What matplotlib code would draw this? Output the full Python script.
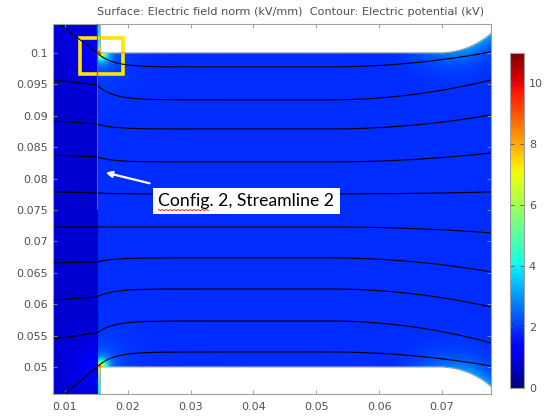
import numpy as np
import matplotlib
matplotlib.use("Agg")
import matplotlib.pyplot as plt
from matplotlib.patches import Rectangle
from matplotlib.lines import Line2D

# axis ranges and ticks
x_range = (0.0081, 0.0778)
y_range = (0.0457, 0.1046)
x_ticks = [0.01, 0.02, 0.03, 0.04, 0.05, 0.06, 0.07]
x_labels = ["0.01", "0.02", "0.03", "0.04", "0.05", "0.06", "0.07"]
y_ticks = [0.05, 0.055, 0.06, 0.065, 0.07, 0.075, 0.08, 0.085, 0.09, 0.095, 0.1]
y_labels = ["0.05", "0.055", "0.06", "0.065", "0.07", "0.075", "0.08", "0.085", "0.09", "0.095", "0.1"]
cbar_ticks = [0, 2, 4, 6, 8, 10]
field_max = 11.0

# geometry
x_domain_edge = 0.0151     # left dielectric / gap boundary
x_electrode = 0.0156       # electrode edge
y_top_electrode = 0.1
y_bot_electrode = 0.05
fillet_start = 0.0695
fillet_radius = 0.0125

# potential contour heights (top to bottom) at a few x stations
contour_levels = [0.95, 0.85, 0.75, 0.65, 0.55, 0.45, 0.35, 0.25, 0.15, 0.05]
contour_y_left = [0.10541, 0.09570, 0.08917, 0.08376, 0.07787, 0.07229, 0.06656, 0.06067, 0.05446, 0.04411]
contour_y_edge = [0.1000, 0.09490, 0.08869, 0.08344, 0.07771, 0.07229, 0.06672, 0.06115, 0.05541, 0.0500]
contour_y_main = [0.09777, 0.09252, 0.08790, 0.08264, 0.07755, 0.07229, 0.06736, 0.06242, 0.05732, 0.05239]
contour_y_right = [0.10016, 0.09570, 0.09013, 0.08408, 0.07787, 0.07134, 0.06513, 0.05955, 0.05382, 0.05016]

# field norm levels (kV/mm)
field_main = 1.85
field_left = 0.78
field_strip = 3.8
field_corner_peak = 8.0
field_fillet_glow = 1.3

# streamline and annotation
streamline_x = [0.0151, 0.0151]
streamline_y = [0.1046, 0.0752]
zoom_box = (0.01239, 0.09666, 0.00686, 0.00573)
label_text = "Config. 2, Streamline 2"
label_pos = (0.03887, 0.07643)
arrow_head = (0.01606, 0.08105)
arrow_tail = (0.02388, 0.07914)


def fillet(x):
    dx = np.clip(x - fillet_start, 0, fillet_radius)
    return fillet_radius - np.sqrt(fillet_radius ** 2 - dx ** 2)


xs = np.linspace(x_range[0], x_range[1], 900)
ys = np.linspace(y_range[0], y_range[1], 800)
X, Y = np.meshgrid(xs, ys)
top_b = y_top_electrode + fillet(X)
bot_b = y_bot_electrode - fillet(X)
outside = (X >= x_electrode) & ((Y > top_b) | (Y < bot_b))

# ---- field norm surface ----
r_top = np.hypot(X - x_electrode, Y - y_top_electrode)
r_bot = np.hypot(X - x_electrode, Y - y_bot_electrode)
E = np.full(X.shape, field_main)
E += field_corner_peak * (np.exp(-r_top / 0.0007) + np.exp(-r_bot / 0.0007))
E += 0.7 * (np.exp(-r_top / 0.003) + np.exp(-r_bot / 0.003))
ramp = np.clip((X - 0.062) / 0.012, 0, 1)
E += field_fillet_glow * ramp * (np.exp(-np.abs(top_b - Y) / 0.002) + np.exp(-np.abs(Y - bot_b) / 0.002))

left = X < x_domain_edge
E_left = field_left + 1.0 * (np.exp(-r_top / 0.0025) + np.exp(-r_bot / 0.0025))
E = np.where(left, E_left, E)

strip = (X >= x_domain_edge) & (X < x_electrode)
E_up = field_strip + 6.5 * np.exp(-np.abs(Y - y_top_electrode) / 0.0008)
E_dn = field_strip + 4.5 * np.exp(-np.abs(y_bot_electrode - Y) / 0.0014)
E = np.where(strip & (Y > y_top_electrode), E_up, E)
E = np.where(strip & (Y < y_bot_electrode), E_dn, E)
E = np.ma.masked_where(outside, E)

# ---- potential for contours ----
pad = 0.006
cl = np.r_[contour_y_left[0] + pad, contour_y_left, contour_y_left[-1] - pad][:, None]
ce = np.r_[contour_y_edge[0] + pad, contour_y_edge, contour_y_edge[-1] - pad][:, None]
cm = np.r_[contour_y_main[0] + pad, contour_y_main, contour_y_main[-1] - pad][:, None]
cr = np.r_[contour_y_right[0] + pad, contour_y_right, contour_y_right[-1] - pad][:, None]
lev = np.r_[contour_levels[0] + 0.1, contour_levels, contour_levels[-1] - 0.1]
t = np.clip((xs - x_range[0]) / (x_domain_edge - x_range[0]), 0, 1)[None, :]
g = 1 - np.exp(-np.clip(xs - x_domain_edge, 0, None) / 0.0025)[None, :]
b = (np.clip((xs - 0.052) / (x_range[1] - 0.052), 0, 1) ** 2)[None, :]
line_y = np.where(xs[None, :] <= x_domain_edge,
                  cl + (ce - cl) * t,
                  ce + (cm - ce) * g + (cr - cm) * b)
phi = np.empty(X.shape)
for j in range(len(xs)):
    phi[:, j] = np.interp(ys, line_y[::-1, j], lev[::-1])
phi = np.ma.masked_where(outside, phi)

# ---- figure ----
fig = plt.figure(figsize=(5.5, 4.19), dpi=100)
ax = fig.add_axes([0.0964, 0.0597, 0.7964, 0.883])
cmap = plt.get_cmap("jet").copy()
cmap.set_bad("white")
im = ax.imshow(E, extent=[x_range[0], x_range[1], y_range[0], y_range[1]], origin="lower",
               cmap=cmap, vmin=0, vmax=field_max, aspect="auto", interpolation="bilinear")
ax.contour(X, Y, phi, levels=sorted(contour_levels), colors="black", linewidths=0.8)

# electrode outlines
xe = xs[xs >= x_electrode]
ax.plot(np.r_[x_electrode, xe], np.r_[y_range[1], y_top_electrode + fillet(xe)], color="#909090", lw=0.6)
ax.plot(np.r_[x_electrode, xe], np.r_[y_range[0], y_bot_electrode - fillet(xe)], color="#909090", lw=0.6)
ax.axvline(x_domain_edge, color="#0a0a55", lw=0.8)
ax.plot(streamline_x, streamline_y, color="#c03060", lw=0.8, zorder=5)

ax.add_patch(Rectangle(zoom_box[:2], zoom_box[2], zoom_box[3], fill=False, edgecolor="#ffe600", lw=2.6))
ax.annotate("", xy=arrow_head, xytext=arrow_tail,
            arrowprops=dict(arrowstyle="-|>", color="white", lw=1.6, mutation_scale=9))
txt = ax.text(label_pos[0], label_pos[1], label_text, ha="center", va="center", fontsize=12.7,
              family="Lato", color="black",
              bbox=dict(boxstyle="square,pad=0.3", facecolor="white", edgecolor="none"))

ax.set_xlim(*x_range)
ax.set_ylim(*y_range)
ax.set_xticks(x_ticks)
ax.set_xticklabels(x_labels)
ax.set_yticks(y_ticks)
ax.set_yticklabels(y_labels)
ax.tick_params(direction="in", length=3, width=0.6, colors="#909090", labelcolor="#505050",
               labelsize=8, top=True, right=True)
ax.tick_params(axis="x", pad=5.5)
ax.tick_params(axis="y", pad=3.5)
for s in ax.spines.values():
    s.set_color("#a0a0a0")
    s.set_linewidth(0.8)

cax = fig.add_axes([0.9273, 0.074, 0.0255, 0.7995])
cb = fig.colorbar(im, cax=cax, ticks=cbar_ticks)
cb.ax.tick_params(direction="in", length=3, width=0.6, colors="#505050", labelcolor="#505050",
                  labelsize=8, left=True, right=True)
cb.outline.set_edgecolor("#a0a0a0")
cb.outline.set_linewidth(0.8)

fig.text(0.529, 0.971, "Surface: Electric field norm (kV/mm)  Contour: Electric potential (kV)",
         ha="center", va="center", fontsize=8.1, color="#505050")

# spell-check squiggle under the first word of the label
fig.canvas.draw()
bb = txt.get_window_extent()
W, H = fig.bbox.width, fig.bbox.height
wx = np.arange(bb.x0, bb.x0 + 0.29 * bb.width, 2.0)
wy = bb.y0 - 1.5 + np.where(np.arange(len(wx)) % 2 == 0, 1.0, -0.2)
fig.add_artist(Line2D(wx / W, wy / H, color="#e03030", lw=0.7, transform=fig.transFigure, zorder=10))

fig.savefig("out.png", dpi=100)
